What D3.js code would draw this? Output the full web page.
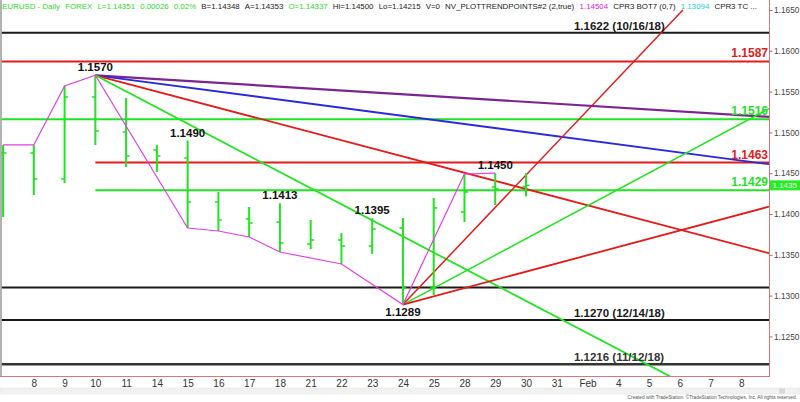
<!DOCTYPE html>
<html><head><meta charset="utf-8">
<script src="https://cdn.jsdelivr.net/npm/d3@7"></script>
<style>body{margin:0;background:#fff}svg{display:block}text{font-family:Arial,"Liberation Sans",sans-serif}</style>
</head><body><svg id="c" width="800" height="402"></svg>
<script>
// ---- data ----
const slots = ["7","8","9","10","11","14","15","16","17","18","21","22","23","24","25","28","29","30","31","Feb","4","5","6","7","8"];
const barDates = ["7","8","9","10","11","14","15","16","17","18","21","22","23","24","25","28","29","30"];
const open  = [1.1475,1.14748,1.14429,1.15434,1.15005,1.14784,1.14686,1.14147,1.13939,1.13902,1.13632,1.13681,1.13608,1.13828,1.13105,1.14025,1.14331,1.14337];
const high  = [1.14846,1.14846,1.15569,1.1570,1.15422,1.14846,1.1490,1.1427,1.14086,1.1413,1.13926,1.13767,1.1395,1.13951,1.14196,1.1449,1.1450,1.1450];
const low   = [1.13963,1.14233,1.1438,1.14846,1.14576,1.14515,1.13828,1.13792,1.13718,1.13534,1.13571,1.13387,1.1351,1.1289,1.13007,1.13902,1.1411,1.14215];
const close = [1.14748,1.14429,1.15434,1.15017,1.14711,1.14711,1.14147,1.13926,1.1389,1.13645,1.13681,1.13608,1.13816,1.13093,1.14074,1.1427,1.14306,1.14351];
const lastPrice = 1.14351;

const swingDates = ["7","8","9","10","15","16","17","18","22","24","28","29"];
const swingSide  = ["H","H","H","H","L","L","L","L","L","L","H","H"];

const pivotDates = ["10","15","18","23","24","29"];
const pivotSide  = ["H","H","H","H","L","H"];

const levelValues = [1.1622,1.1587,1.1516,1.1463,1.1429,1.1310,1.1270,1.1216];
const levelColors = ["#1a1a1a","#e31b1b","#22e322","#e31b1b","#22e322","#1a1a1a","#1a1a1a","#333333"];
const levelLabels = ["1.1622 (10/16/18)","1.1587","1.1516","1.1463","1.1429","","1.1270 (12/14/18)","1.1216 (11/12/18)"];
const levelFrom   = [-0.1,-0.1,-0.1,3,3,-0.1,-0.1,-0.1];

const trendFromSlot  = [3,3,3,3,13,13,13];
const trendFromPrice = [1.1570,1.1570,1.1570,1.1570,1.1289,1.1289,1.1289];
const trendToSlot    = [24.9,24.9,24.9,24.9,22.1,24.9,24.9];
const trendToPrice   = [1.1519,1.1461,1.1352,1.11375,1.1650,1.1529,1.1409];
const trendColors    = ["#7a2590","#2a2ad8","#e31b1b","#22e322","#e31b1b","#22e322","#e31b1b"];
const trendWidths    = [2.2,1.8,1.8,1.8,1.5,1.5,1.8];

const yTicks = [1.1650,1.1600,1.1550,1.1500,1.1450,1.1400,1.1350,1.1300,1.1250];

const headerTexts  = ["EURUSD - Daily","FOREX","L=1.14351","0.00026","0.02%","B=1.14348","A=1.14353","O=1.14337","Hi=1.14500","Lo=1.14215","V=0","NV_PLOTTRENDPOINTS#2 (2,true)","1.14504","CPR3 BOT7 (0,7)","1.13094","CPR3 TC ..."];
const headerColors = ["#2ed82e","#2ed82e","#2ed82e","#2ed82e","#2ed82e","#222","#222","#2ed82e","#222","#222","#222","#222","#e020e0","#222","#20d0e0","#222"];

// ---- drawing ----
const svg = d3.select("#c");
const plotR = 769, plotB = 376;
const x = d3.scaleLinear().domain([-0.1, 24.9]).range([0, plotR]);
const y = d3.scaleLinear().domain([1.1650, 1.1250]).range([10, 336.4]);
const si = d => slots.indexOf(d);
const bi = d => barDates.indexOf(d);
const green = "#22e322";

svg.append("rect").attr("width",800).attr("height",402).attr("fill","#fff");
svg.append("defs").append("clipPath").attr("id","pc").append("rect")
  .attr("x",1.5).attr("y",0).attr("width",plotR-1.5).attr("height",plotB);

const g = svg.append("g").attr("clip-path","url(#pc)");

// horizontal levels
g.selectAll(".lvl").data(levelValues).join("line")
  .attr("x1",(d,i)=>x(levelFrom[i])).attr("x2",plotR)
  .attr("y1",d=>y(d)).attr("y2",d=>y(d))
  .attr("stroke",(d,i)=>levelColors[i]).attr("stroke-width",(d,i)=>i===7?2.5:2);

// trend lines
g.selectAll(".tr").data(trendColors).join("line")
  .attr("x1",(d,i)=>x(trendFromSlot[i])).attr("y1",(d,i)=>y(trendFromPrice[i]))
  .attr("x2",(d,i)=>x(trendToSlot[i])).attr("y2",(d,i)=>y(trendToPrice[i]))
  .attr("stroke",d=>d).attr("stroke-width",(d,i)=>trendWidths[i]);

// OHLC bars
const bars = g.selectAll(".bar").data(barDates).join("g");
bars.append("line").attr("x1",d=>x(si(d))).attr("x2",d=>x(si(d)))
  .attr("y1",(d,i)=>y(high[i])).attr("y2",(d,i)=>y(low[i]))
  .attr("stroke",green).attr("stroke-width",2);
bars.append("line").attr("x1",d=>x(si(d))-3.5).attr("x2",d=>x(si(d)))
  .attr("y1",(d,i)=>y(open[i])).attr("y2",(d,i)=>y(open[i]))
  .attr("stroke",green).attr("stroke-width",1.6);
bars.append("line").attr("x1",d=>x(si(d))).attr("x2",d=>x(si(d))+3.5)
  .attr("y1",(d,i)=>y(close[i])).attr("y2",(d,i)=>y(close[i]))
  .attr("stroke",green).attr("stroke-width",1.6);

// swing line
const swingPts = swingDates.map((d,k)=>[x(si(d)), y(swingSide[k]==="H"?high[bi(d)]:low[bi(d)])]);
g.append("path").attr("d",d3.line()(swingPts)).attr("fill","none")
  .attr("stroke","#e040e0").attr("stroke-width",1.2);

// pivot labels
svg.selectAll(".pv").data(pivotDates).join("text")
  .attr("x",d=>x(si(d))).attr("text-anchor","middle")
  .attr("y",(d,k)=>pivotSide[k]==="H"? y(high[bi(d)])-4 : y(low[bi(d)])+11)
  .attr("font-size","11.5px").attr("font-weight","bold").attr("fill","#111")
  .text((d,k)=>(pivotSide[k]==="H"?high[bi(d)]:low[bi(d)]).toFixed(4));

// level labels
svg.selectAll(".ll").data(levelLabels).join("text")
  .attr("x",(d,i)=>d.includes("(")? x(18.56) : plotR-1)
  .attr("text-anchor",(d,i)=>d.includes("(")?"start":"end")
  .attr("y",(d,i)=>y(levelValues[i]) - (d.includes("(")?3:4))
  .attr("font-size",(d,i)=>d.includes("(")?"11.5px":"12px").attr("font-weight","bold")
  .attr("fill",(d,i)=>levelColors[i]).text(d=>d);

// frame
svg.append("line").attr("x1",1).attr("x2",1).attr("y1",0).attr("y2",plotB).attr("stroke","#999").attr("stroke-width",1.5);
svg.append("line").attr("x1",plotR+0.5).attr("x2",plotR+0.5).attr("y1",0).attr("y2",plotB).attr("stroke","#d07a7a").attr("stroke-width",1);
svg.append("line").attr("x1",0).attr("x2",plotR+1).attr("y1",plotB+0.5).attr("y2",plotB+0.5).attr("stroke","#d07a7a").attr("stroke-width",1);

// right axis
const ya = svg.append("g").attr("transform",`translate(${plotR+0.5},0)`)
  .call(d3.axisRight(y).tickValues(yTicks).tickFormat(d3.format(".4f")).tickSize(3).tickPadding(1.5).tickSizeOuter(0));
ya.select(".domain").remove();
ya.selectAll("line").attr("stroke","#c06060");
ya.selectAll("text").attr("font-size","8.3px").attr("fill","#444").attr("font-family","Arial, 'Liberation Sans', sans-serif");

// last price box
svg.append("rect").attr("x",plotR+1).attr("y",y(lastPrice)-5).attr("width",31).attr("height",10).attr("fill","#22ee22");
svg.append("text").attr("x",plotR+3.5).attr("y",y(lastPrice)+3).attr("font-size","8px").attr("fill","#fff").text(lastPrice.toFixed(4));

// bottom axis
const xa = svg.append("g").attr("transform",`translate(0,${plotB})`)
  .call(d3.axisBottom(x).tickValues(d3.range(1,slots.length)).tickFormat(i=>slots[i]).tickSize(0).tickPadding(4));
xa.select(".domain").remove();
xa.selectAll("text").attr("font-size","10px").attr("fill","#333").attr("font-family","Arial, 'Liberation Sans', sans-serif");

// scrollbar strip
svg.append("rect").attr("x",0).attr("y",388).attr("width",800).attr("height",6).attr("fill","#f1f1f1").attr("stroke","#e2e2e2").attr("stroke-width",0.5);
svg.append("rect").attr("x",779).attr("y",388.5).attr("width",6).attr("height",5).attr("fill","#d8d8d8");

// credits
svg.append("text").attr("x",797).attr("y",398.6).attr("text-anchor","end").attr("font-size","4.8px").attr("fill","#555")
  .text("Created with TradeStation. \u00A9TradeStation Technologies, Inc. All rights reserved.");

// header: fit chunks with a fixed gap between them
const hdr = svg.append("g");
const hts = hdr.selectAll("text").data(headerTexts).join("text")
  .attr("y",9).attr("font-size","10px").attr("font-family","'DejaVu Sans', Verdana, sans-serif")
  .attr("fill",(d,i)=>headerColors[i]).text(d=>d);
const w10 = []; hts.each(function(){ w10.push(this.getComputedTextLength()); });
const hGap = 5;
const fs = (757 - 2 - hGap*(headerTexts.length-1)) / d3.sum(w10) * 10;
hts.attr("font-size", fs + "px");
let cx = 2;
hts.attr("x",(d,i)=>{ const v = cx; cx += w10[i]*fs/10 + hGap; return v; });
</script></body></html>
